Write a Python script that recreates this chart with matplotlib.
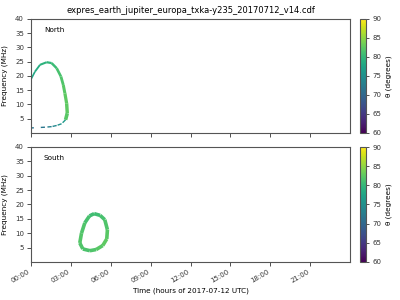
import numpy as np
import matplotlib
matplotlib.use("Agg")
import matplotlib.pyplot as plt
from matplotlib.collections import LineCollection
from matplotlib.colors import Normalize

# --- data (time in hours, frequency in MHz, theta in degrees)
north_upper_t = [0.0, 0.3, 0.68, 1.18, 1.55, 1.93, 2.25, 2.43, 2.55, 2.68, 2.73, 2.6]
north_upper_f = [18.8, 21.5, 23.9, 24.8, 24.5, 22.7, 19.8, 16.8, 13.9, 10.4, 6.9, 4.6]
north_upper_theta = [77.5, 78.0, 79.0, 79.5, 80.0, 81.0, 81.5, 82.0, 82.5, 82.5, 82.5, 82.0]

north_lower_t = [2.6, 2.3, 1.93, 1.55, 1.05, 0.05]
north_lower_f = [4.6, 3.2, 2.6, 2.2, 2.0, 1.75]
north_lower_theta = [77.0, 75.5, 74.5, 73.5, 72.5, 71.0]

south_t = [4.75, 5.2, 5.55, 5.75, 5.7, 5.4, 4.9, 4.43, 3.9, 3.67, 3.8, 4.05, 4.4, 4.75]
south_f = [16.8, 16.2, 14.7, 11.2, 8.0, 5.7, 4.3, 3.9, 4.5, 6.6, 10.0, 13.6, 16.0, 16.8]
south_theta = [80.5, 81.0, 81.5, 82.0, 82.5, 82.5, 82.0, 81.5, 81.5, 82.0, 82.0, 81.5, 81.0, 80.5]

xtick_hours = [0, 3, 6, 9, 12, 15, 18, 21]
xtick_labels = ["00:00", "03:00", "06:00", "09:00", "12:00", "15:00", "18:00", "21:00"]
ytick_values = [5, 10, 15, 20, 25, 30, 35, 40]
cbar_ticks = [60, 65, 70, 75, 80, 85, 90]
hemispheres = ["North", "South"]

title = "expres_earth_jupiter_europa_txka-y235_20170712_v14.cdf"
xlabel = "Time (hours of 2017-07-12 UTC)"
ylabel = "Frequency (MHz)"
cbar_label = "θ (degrees)"

cmap = plt.get_cmap("viridis")
norm = Normalize(vmin=60, vmax=90)

fig = plt.figure(figsize=(4, 3), dpi=100)
ax1 = fig.add_axes([0.0775, 0.557, 0.7975, 0.38])
ax2 = fig.add_axes([0.0775, 0.127, 0.7975, 0.383])
cax1 = fig.add_axes([0.9, 0.557, 0.015, 0.38])
cax2 = fig.add_axes([0.9, 0.127, 0.015, 0.383])


def segments(t, f, theta, ax, lw, ls="solid"):
    pts = np.column_stack([t, f]).reshape(-1, 1, 2)
    segs = np.concatenate([pts[:-1], pts[1:]], axis=1)
    vals = 0.5 * (np.asarray(theta[:-1]) + np.asarray(theta[1:]))
    lc = LineCollection(segs, cmap=cmap, norm=norm, linewidths=lw, linestyles=ls,
                        capstyle="butt")
    lc.set_array(vals)
    ax.add_collection(lc)
    return lc


lw_upper = np.linspace(1.2, 2.6, len(north_upper_t) - 1)
segments(north_upper_t, north_upper_f, north_upper_theta, ax1, lw_upper)
segments(north_lower_t, north_lower_f, north_lower_theta, ax1, 1.0, ls=(0, (3, 5)))
mappable = segments(south_t, south_f, south_theta, ax2, 2.6)

spine_col = "#555555"
for ax, name in zip([ax1, ax2], hemispheres):
    ax.set_xlim(0, 24)
    ax.set_ylim(0, 40)
    ax.set_yticks(ytick_values)
    ax.set_xticks(xtick_hours)
    ax.tick_params(labelsize=5, length=3, width=0.6, colors="#333333", pad=2)
    for s in ax.spines.values():
        s.set_color(spine_col)
        s.set_linewidth(0.8)
    ax.set_ylabel(ylabel, fontsize=5.2, labelpad=5)
    ax.text(0.04, 0.93, name, transform=ax.transAxes, fontsize=5.2, va="top", ha="left")

ax1.set_xticklabels([])
ax2.set_xticklabels(xtick_labels, rotation=30, ha="right")
ax2.set_xlabel(xlabel, fontsize=5.2, labelpad=2)
ax1.set_title(title, fontsize=6.0, pad=4)

for cax in [cax1, cax2]:
    cb = fig.colorbar(mappable, cax=cax, ticks=cbar_ticks)
    cb.ax.tick_params(labelsize=5, length=2.5, width=0.6, colors="#333333", pad=2)
    cb.outline.set_edgecolor(spine_col)
    cb.outline.set_linewidth(0.8)
    cb.set_label(cbar_label, fontsize=5.2, labelpad=3)

fig.savefig("out.png", dpi=100)
